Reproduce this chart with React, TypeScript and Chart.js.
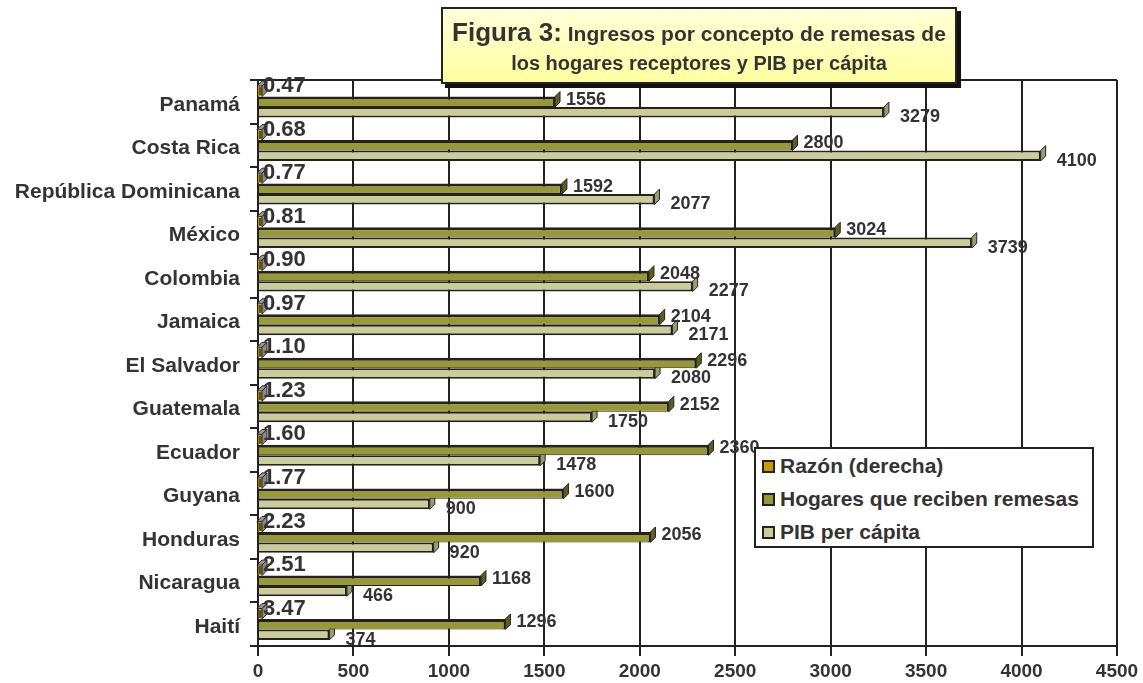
import React, { useEffect, useRef } from "react";
import { Chart, registerables } from "chart.js";

Chart.register(...registerables);

const categories = [
  "Panamá",
  "Costa Rica",
  "República Dominicana",
  "México",
  "Colombia",
  "Jamaica",
  "El Salvador",
  "Guatemala",
  "Ecuador",
  "Guyana",
  "Honduras",
  "Nicaragua",
  "Haití",
];
const razon = [0.47, 0.68, 0.77, 0.81, 0.9, 0.97, 1.1, 1.23, 1.6, 1.77, 2.23, 2.51, 3.47];
const hogares = [1556, 2800, 1592, 3024, 2048, 2104, 2296, 2152, 2360, 1600, 2056, 1168, 1296];
const pib = [3279, 4100, 2077, 3739, 2277, 2171, 2080, 1750, 1478, 900, 920, 466, 374];
const seriesNames = ["Razón (derecha)", "Hogares que reciben remesas", "PIB per cápita"];
const xMin = 0;
const xMax = 4500;
const xStep = 500;

const FONT = "'Liberation Sans', Arial, sans-serif";
const TEXT = "#333333";
const LINE = "#222222";
const COLORS = ["#CC9900", "#999933", "#CCCC99"];
const SIDE = ["#8a8a8a", "#5e5e1c", "#9c9c6c"];
const DEPTH = 5;

const bar3dPlugin = {
  id: "bar3d",
  beforeDatasetsDraw(chart: any) {
    const ctx = chart.ctx;
    const area = chart.chartArea;
    ctx.save();
    ctx.strokeStyle = LINE;
    ctx.lineWidth = 2;
    ctx.beginPath();
    ctx.moveTo(area.left, area.top);
    ctx.lineTo(area.right, area.top);
    ctx.stroke();
    ctx.lineWidth = 1;
    chart.data.datasets.forEach((ds: any, di: number) => {
      const meta = chart.getDatasetMeta(di);
      meta.data.forEach((el: any) => {
        const top = el.y - el.height / 2;
        const bottom = el.y + el.height / 2;
        const base = el.base;
        const x = di === 0 ? base + 3 : el.x;
        if (di === 0) {
          ctx.fillStyle = "#9a9a9a";
          ctx.beginPath();
          ctx.moveTo(base - 2, top);
          ctx.lineTo(base + DEPTH - 2, top - DEPTH);
          ctx.lineTo(x + DEPTH, top - DEPTH);
          ctx.lineTo(x, top);
          ctx.closePath();
          ctx.fill();
          ctx.strokeStyle = LINE;
          ctx.stroke();
        }
        ctx.fillStyle = SIDE[di];
        ctx.strokeStyle = LINE;
        ctx.beginPath();
        ctx.moveTo(x, top);
        ctx.lineTo(x + DEPTH, top - DEPTH);
        ctx.lineTo(x + DEPTH, bottom - DEPTH);
        ctx.lineTo(x, bottom);
        ctx.closePath();
        ctx.fill();
        ctx.stroke();
      });
    });
    ctx.restore();
  },
  afterDatasetsDraw(chart: any) {
    const ctx = chart.ctx;
    ctx.save();
    ctx.textAlign = "left";
    ctx.textBaseline = "middle";
    const m0 = chart.getDatasetMeta(0);
    m0.data.forEach((el: any) => {
      const top = el.y - el.height / 2;
      ctx.fillStyle = "#6b5200";
      ctx.fillRect(el.base, top + 1, 3, el.height - 2);
    });
    ctx.fillStyle = TEXT;
    ctx.font = `bold 22px ${FONT}`;
    m0.data.forEach((el: any, i: number) => {
      const top = el.y - el.height / 2;
      ctx.fillText(razon[i].toFixed(2), el.base + 4, top);
    });
    ctx.font = `bold 18px ${FONT}`;
    const m1 = chart.getDatasetMeta(1);
    m1.data.forEach((el: any, i: number) => {
      ctx.fillText(String(hogares[i]), el.x + 11, el.y - 2);
    });
    const m2 = chart.getDatasetMeta(2);
    m2.data.forEach((el: any, i: number) => {
      ctx.fillText(String(pib[i]), el.x + 16, el.y + 5);
    });
    ctx.restore();
  },
};

export default function App() {
  const ref = useRef<HTMLCanvasElement | null>(null);

  useEffect(() => {
    if (!ref.current) return;
    const chart = new Chart(ref.current, {
      type: "bar",
      data: {
        labels: categories,
        datasets: [
          { label: seriesNames[0], data: razon, backgroundColor: COLORS[0], borderWidth: 0 },
          {
            label: seriesNames[1],
            data: hogares,
            backgroundColor: COLORS[1],
            borderColor: LINE,
            borderWidth: { top: 3, right: 2, bottom: 1, left: 0 },
            borderSkipped: false,
          },
          {
            label: seriesNames[2],
            data: pib,
            backgroundColor: COLORS[2],
            borderColor: LINE,
            borderWidth: { top: 2, right: 2, bottom: 2, left: 0 },
            borderSkipped: false,
          },
        ],
      },
      options: {
        indexAxis: "y",
        animation: false,
        responsive: false,
        devicePixelRatio: 1,
        layout: { padding: { top: 80, right: 26, left: 0, bottom: 0 } },
        datasets: {
          bar: { categoryPercentage: 0.72, barPercentage: 1.0 },
        },
        plugins: {
          legend: { display: false },
          title: { display: false },
          tooltip: { enabled: false },
        },
        scales: {
          x: {
            min: xMin,
            max: xMax,
            ticks: {
              stepSize: xStep,
              color: TEXT,
              font: { family: FONT, size: 19, weight: "bold" },
              padding: 4,
              callback: (v: any) => String(v),
            },
            grid: { color: LINE, lineWidth: 2, tickLength: 10, drawTicks: true },
            border: { display: true, color: LINE, width: 2 },
            afterFit: (scale: any) => {
              scale.height = 37;
            },
          },
          y: {
            offset: true,
            ticks: {
              color: TEXT,
              font: { family: FONT, size: 21, weight: "bold" },
              padding: 10,
              labelOffset: 3,
            },
            grid: {
              display: true,
              drawOnChartArea: false,
              drawTicks: true,
              tickLength: 8,
              color: LINE,
              lineWidth: 2,
              offset: true,
            },
            border: { display: true, color: LINE, width: 2 },
            afterFit: (scale: any) => {
              scale.width = 258;
            },
          },
        },
      } as any,
      plugins: [bar3dPlugin],
    });
    return () => chart.destroy();
  }, []);

  const legendItem = (i: number, top: number) => (
    <div
      key={i}
      style={{ position: "absolute", left: 6, top, display: "flex", alignItems: "center", height: 24 }}
    >
      <div
        style={{ width: 9, height: 9, border: `2px solid ${LINE}`, background: COLORS[i], marginRight: 5 }}
      />
      <span style={{ fontFamily: FONT, fontWeight: "bold", fontSize: 21, color: TEXT, whiteSpace: "nowrap" }}>
        {seriesNames[i]}
      </span>
    </div>
  );

  return (
    <div style={{ position: "fixed", left: 0, top: 0, width: 1143, height: 683, background: "#fff" }}>
      <canvas ref={ref} width={1143} height={683} style={{ display: "block" }} />
      <div
        style={{
          position: "absolute",
          left: 441,
          top: 7,
          width: 512,
          height: 73,
          border: `2px solid ${LINE}`,
          background: "linear-gradient(#FFFFD8, #FFFFA0)",
          boxShadow: "4px 4px 0 #111",
          fontFamily: FONT,
          fontWeight: "bold",
          color: TEXT,
          textAlign: "center",
        }}
      >
        <div style={{ position: "absolute", left: 0, right: 0, top: 9, lineHeight: "28px", whiteSpace: "nowrap" }}>
          <span style={{ fontSize: 26 }}>Figura 3:</span>
          <span style={{ fontSize: 21 }}> Ingresos por concepto de remesas de</span>
        </div>
        <div style={{ position: "absolute", left: 0, right: 0, top: 41, lineHeight: "26px", fontSize: 20, whiteSpace: "nowrap" }}>
          los hogares receptores y PIB per cápita
        </div>
      </div>
      <div
        style={{
          position: "absolute",
          left: 754,
          top: 447,
          width: 336,
          height: 97,
          border: `2px solid ${LINE}`,
          background: "#fff",
        }}
      >
        {legendItem(0, 5)}
        {legendItem(1, 38)}
        {legendItem(2, 71)}
      </div>
    </div>
  );
}
